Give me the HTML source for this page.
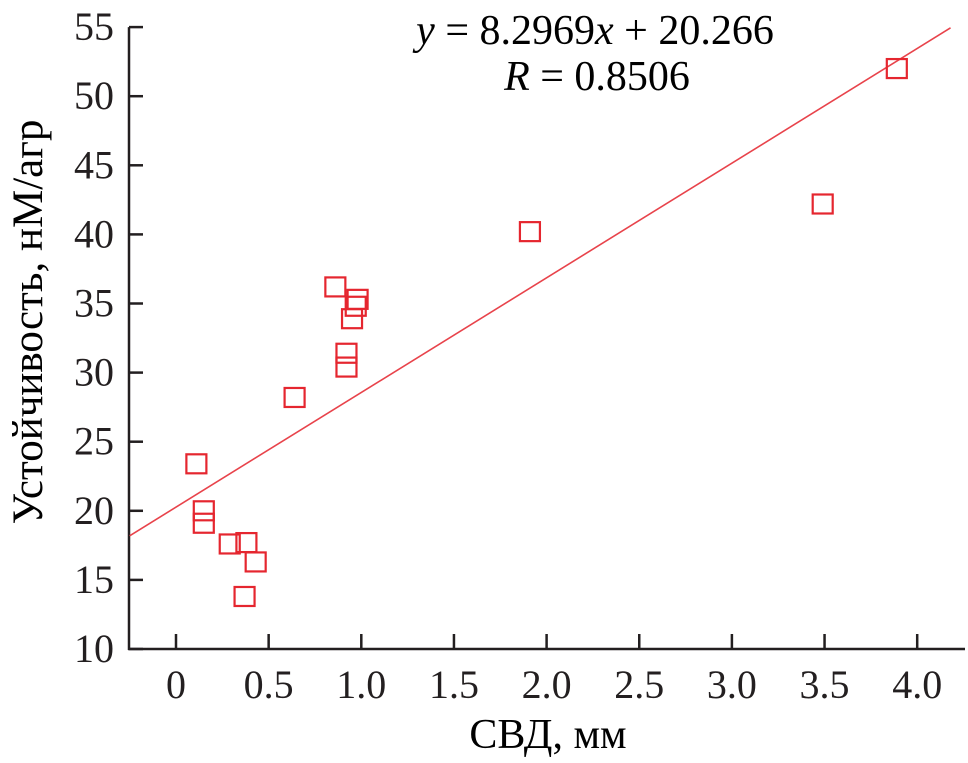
<!DOCTYPE html>
<html><head><meta charset="utf-8"><style>
html,body{margin:0;padding:0;background:#fff;}
svg{display:block;font-family:"Liberation Serif",serif;}
</style></head><body>
<svg id="chart" width="968" height="763" viewBox="0 0 968 763" xmlns="http://www.w3.org/2000/svg">
<g id="axes"></g>
<g id="marks"></g>
<text x="595" y="44" font-size="42" text-anchor="middle"><tspan font-style="italic">y</tspan> = 8.2969<tspan font-style="italic">x</tspan> + 20.266</text>
<text x="597" y="90" font-size="42" text-anchor="middle"><tspan font-style="italic">R</tspan> = 0.8506</text>
<text x="548" y="748" font-size="42" text-anchor="middle">СВД, мм</text>
<text transform="translate(42,322) rotate(-90)" font-size="43" text-anchor="middle">Устойчивость, нМ/агр</text>
</svg>
<script>
const xTicks = [0, 0.5, 1.0, 1.5, 2.0, 2.5, 3.0, 3.5, 4.0];
const xTickLabels = ["0", "0.5", "1.0", "1.5", "2.0", "2.5", "3.0", "3.5", "4.0"];
const yTicks = [10, 15, 20, 25, 30, 35, 40, 45, 50, 55];
const xValues = [0.11, 0.15, 0.15, 0.29, 0.38, 0.43, 0.37, 0.64, 0.86, 0.92, 0.92, 0.95, 0.97, 0.98, 1.91, 3.49, 3.89];
const yValues = [23.4, 20.0, 19.1, 17.6, 17.7, 16.3, 13.8, 28.2, 36.2, 31.4, 30.4, 33.9, 34.8, 35.3, 40.2, 42.2, 52.0];
const slope = 8.2969, intercept = 20.266;

const NS = "http://www.w3.org/2000/svg";
const X0 = 176, XU = 185.3, Y0 = 649, YU = 13.82;
const sx = v => X0 + v * XU;
const sy = v => Y0 - (v - 10) * YU;
const axes = document.getElementById('axes');
const marks = document.getElementById('marks');
function mk(tag, attrs, parent) {
  const e = document.createElementNS(NS, tag);
  for (const k in attrs) e.setAttribute(k, attrs[k]);
  parent.appendChild(e);
  return e;
}
let e = mk('line', {x1: 129, y1: sy(55), x2: 129, y2: Y0 + 1, stroke: '#231f20', 'stroke-width': 2.5}, axes);


e = mk('line', {x1: 128, y1: Y0, x2: 965, y2: Y0, stroke: '#231f20', 'stroke-width': 2.5}, axes);


xTicks.forEach((t, i) => {
  const x = sx(t);
  const l = mk('line', {x1: x, y1: Y0, x2: x, y2: Y0 - 15, stroke: '#231f20', 'stroke-width': 2.5}, axes);
  
  
  const tx = mk('text', {x: x, y: 698, 'font-size': 40, 'text-anchor': 'middle', fill: '#231f20'}, axes);
  tx.textContent = xTickLabels[i];
  
  
});
yTicks.forEach(t => {
  const y = sy(t);
  const l = mk('line', {x1: 129, y1: y, x2: 143, y2: y, stroke: '#231f20', 'stroke-width': 2.5}, axes);
  
  
  const tx = mk('text', {x: 114, y: y + 13, 'font-size': 40, 'text-anchor': 'end', fill: '#231f20'}, axes);
  tx.textContent = String(t);
  
  
});
const xa = -0.25, xb = 4.18;
const tl = mk('line', {x1: sx(xa), y1: sy(slope * xa + intercept), x2: sx(xb), y2: sy(slope * xb + intercept), stroke: '#e8434b', 'stroke-width': 1.6}, marks);


xValues.forEach((v, i) => {
  const r = mk('rect', {x: sx(v) - 10, y: sy(yValues[i]) - 9.5, width: 20, height: 19, fill: 'none', stroke: '#e5262f', 'stroke-width': 2.2}, marks);
  
  
});
</script>
</body></html>
